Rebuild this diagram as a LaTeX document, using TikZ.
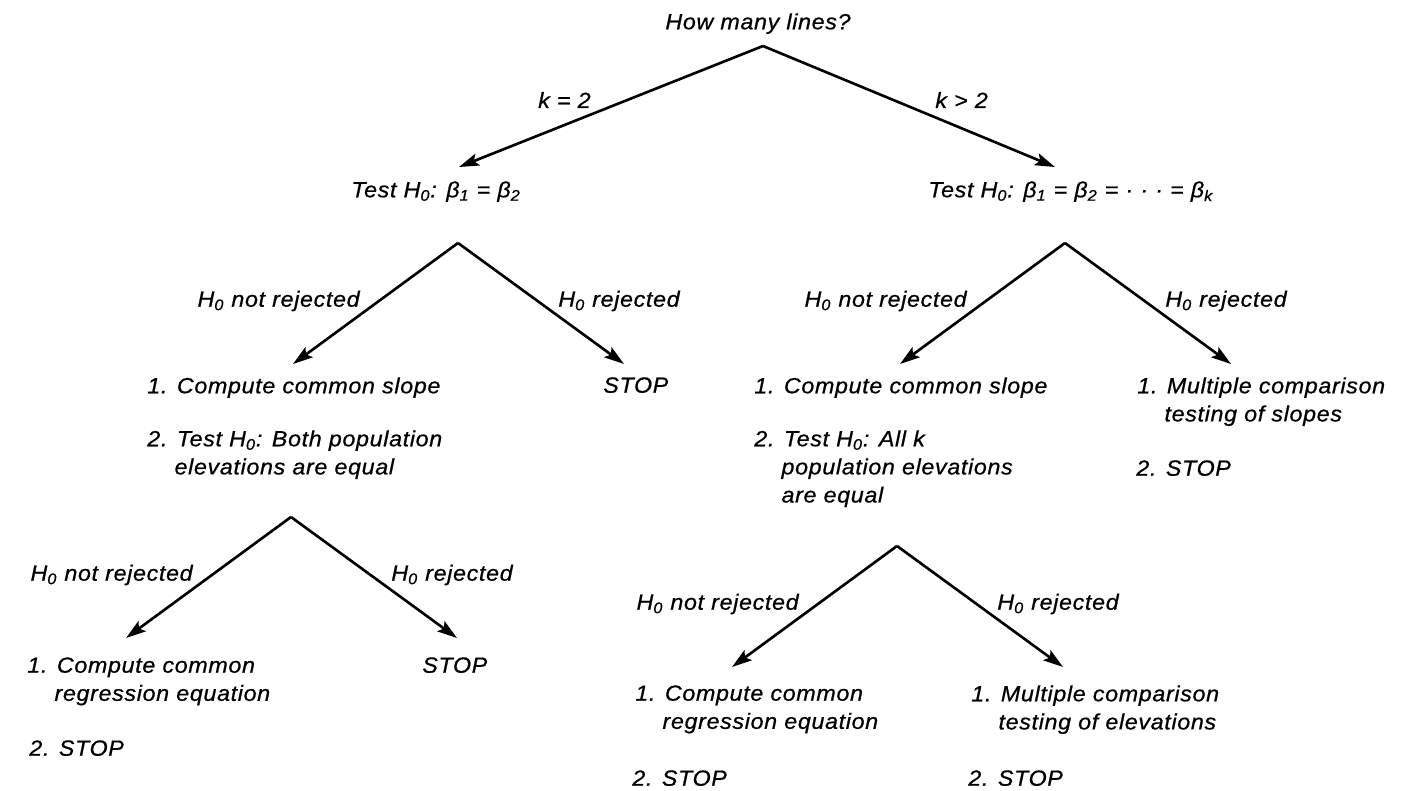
\documentclass[tikz,border=0pt]{standalone}
\usepackage{fontspec}
\setmainfont{Liberation Sans}[LetterSpace=3, FakeStretch=1.06, FakeBold=0.7]
\usetikzlibrary{arrows.meta}
\newcommand{\hnull}{H\textsubscript{0}}
\newcommand{\dtindent}{\phantom{1.\ }}
\tikzset{
  dttext/.style={font=\fontsize{12.5}{16}\selectfont\itshape, inner sep=0pt},
  dtlabel/.style={dttext},
  dtoutcome/.style={dttext, anchor=north west, align=left},
  dtbranch/.style={draw, line width=1.5pt,
                   -{Stealth[length=4mm, width=2.5mm, inset=0.8mm]}}
}

\begin{document}
\begin{tikzpicture}[x=0.02cm, y=-0.02cm]
  \useasboundingbox (0,0) rectangle (1403,791);
  % how many lines
  \node[dttext, anchor=north] (lines) at (758,13) {How many lines?};
  \coordinate (q) at (763,46);
  \coordinate (q-l) at (459,167);
  \coordinate (q-r) at (1055,167);
  \draw[dtbranch] (q) -- (q-l);
  \draw[dtbranch] (q) -- (q-r);
  \node[dtlabel, anchor=east] (two) at (591,100) {k = 2};
  \node[dtlabel, anchor=west] (more) at (935,100) {k > 2};
  \node[dtoutcome] (testtwo) at (351,181)
    {Test \hnull: β\textsubscript{1} = β\textsubscript{2}};
  \node[dtoutcome] (testall) at (928,181)
    {Test \hnull: β\textsubscript{1} = β\textsubscript{2} = · · · = β\textsubscript{k}};

  % the four tests of H0
  \foreach \s/\x/\y in {a/458/243, b/1065/243, c/291/517, d/897/546} {
    \coordinate (\s) at (\x,\y);
    \coordinate (\s-l) at (\x-165,\y+121);
    \coordinate (\s-r) at (\x+166,\y+121);
    \draw[dtbranch] (\s) -- (\s-l);
    \draw[dtbranch] (\s) -- (\s-r);
    \node[dtlabel, anchor=east] (\s-keep) at (\x-98,\y+58) {\hnull\ not rejected};
    \node[dtlabel, anchor=west] (\s-drop) at (\x+100,\y+58) {\hnull\ rejected};
  }

  % k = 2
  \node[dtoutcome] (aslope) at (147,377) {1. Compute common slope};
  \node[dtoutcome] (aelev) at (147,430)
    {2. Test \hnull: Both population\\\dtindent elevations are equal};
  \node[dtoutcome] (astop) at (603,377) {STOP};
  \node[dtoutcome] (creg) at (27,657)
    {1. Compute common\\\dtindent regression equation};
  \node[dtoutcome] (cend) at (29,740) {2. STOP};
  \node[dtoutcome] (cstop) at (422,657) {STOP};

  % k > 2
  \node[dtoutcome] (bslope) at (754,377) {1. Compute common slope};
  \node[dtoutcome] (belev) at (754,430)
    {2. Test \hnull: All k\\\dtindent population elevations\\\dtindent are equal};
  \node[dtoutcome] (bmult) at (1137,377)
    {1. Multiple comparison\\\dtindent testing of slopes};
  \node[dtoutcome] (bstop) at (1136,460) {2. STOP};
  \node[dtoutcome] (dreg) at (635,685)
    {1. Compute common\\\dtindent regression equation};
  \node[dtoutcome] (dend) at (632,770) {2. STOP};
  \node[dtoutcome] (dmult) at (971,685)
    {1. Multiple comparison\\\dtindent testing of elevations};
  \node[dtoutcome] (dstop) at (968,770) {2. STOP};
\end{tikzpicture}
\end{document}
